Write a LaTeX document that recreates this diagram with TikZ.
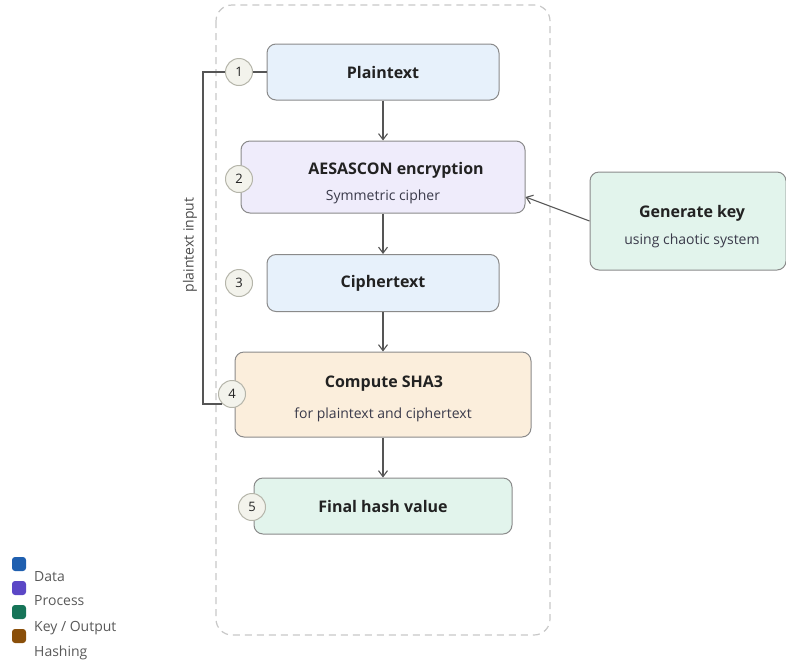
\documentclass[tikz,border=0pt]{standalone}
\usepackage{fontspec}
\setmainfont{Open Sans}
\usetikzlibrary{arrows.meta}
\definecolor{edgegray}{HTML}{8A8A8A}
\definecolor{dashgray}{HTML}{C8C8C8}
\definecolor{txt}{HTML}{222222}
\definecolor{subtxt}{HTML}{3A3A4A}
\definecolor{fillblue}{HTML}{E7F1FB}
\definecolor{fillpurple}{HTML}{EFECFB}
\definecolor{fillpeach}{HTML}{FBEEDC}
\definecolor{fillgreen}{HTML}{E2F4EC}
\definecolor{circfill}{HTML}{F3F3EC}
\definecolor{circedge}{HTML}{B5B5AA}
\definecolor{legdata}{HTML}{1F5FAF}
\definecolor{legproc}{HTML}{5B47C6}
\definecolor{legkey}{HTML}{167458}
\definecolor{leghash}{HTML}{8A4F0A}
\definecolor{arrowgray}{HTML}{555555}
\tikzset{
  boxstyle/.style={draw=edgegray, line width=1pt, rounded corners=9pt, inner sep=0pt, align=center, text=txt},
  numstyle/.style={circle, draw=circedge, fill=circfill, line width=1pt, minimum size=27pt, inner sep=0pt, font=\fontsize{13}{15}\selectfont, text=txt},
  flow/.style={draw=arrowgray, line width=1.1pt, -{Straight Barb[length=6pt,width=9pt]}},
  link/.style={draw=arrowgray, line width=1.1pt},
  ttl/.style={font=\fontsize{16}{19}\selectfont\bfseries},
  subt/.style={font=\fontsize{14}{16}\selectfont, text=subtxt},
  legsq/.style={rounded corners=3pt, minimum size=14pt, inner sep=0pt},
  legtxt/.style={anchor=base west, font=\fontsize{14}{16}\selectfont, text=black!65, inner sep=0pt}
}
\begin{document}
\begin{tikzpicture}[x=1pt,y=-1pt]
\useasboundingbox (0,0) rectangle (786,662);
% container
\draw[dashgray, line width=1.2pt, dash pattern=on 7pt off 5pt, rounded corners=16pt] (216,5) rectangle (550,635);
% boxes
\node[boxstyle, fill=fillblue, minimum width=232pt, minimum height=56pt] (plain) at (383,72) {};
\node[ttl, text=txt] at (383,72) {Plaintext};
\node[boxstyle, fill=fillpurple, minimum width=284pt, minimum height=72pt] (aes) at (383,177) {};
\node[ttl, text=txt] at (396,170) {AESASCON encryption};
\node[subt] at (383,197) {Symmetric cipher};
\node[boxstyle, fill=fillblue, minimum width=232pt, minimum height=57pt] (cipher) at (383,283) {};
\node[ttl, text=txt] at (383,283) {Ciphertext};
\node[boxstyle, fill=fillpeach, minimum width=296pt, minimum height=85pt] (sha) at (383,394.5) {};
\node[ttl, text=txt] at (384,384) {Compute SHA3};
\node[subt] at (383,415) {for plaintext and ciphertext};
\node[boxstyle, fill=fillgreen, minimum width=258pt, minimum height=56pt] (final) at (383,506) {};
\node[ttl, text=txt] at (383,506) {Final hash value};
\node[boxstyle, fill=fillgreen, minimum width=196pt, minimum height=98pt] (key) at (688,221) {};
\node[ttl, text=txt] at (692,213) {Generate key};
\node[subt] at (692,241) {using chaotic system};
% arrows
\draw[flow] (plain.south) -- (aes.north);
\draw[flow] (aes.south) -- (cipher.north);
\draw[flow] (cipher.south) -- (sha.north);
\draw[flow] (sha.south) -- (final.north);
\draw[flow] (key.west) -- (aes.east |- 0,197);
% number circles
\node[numstyle] (n1) at (239,72) {1};
\node[numstyle] (n2) at (239,179) {2};
\node[numstyle] (n3) at (239,283) {3};
\node[numstyle] (n4) at (232,394) {4};
\node[numstyle] (n5) at (252,507) {5};
% feedback
\coordinate (c1) at (203,72);
\coordinate (c2) at (203,404);
\draw[link] (n1.east) -- (plain.west);
\draw[link] (n1.west) -- (c1) -- (c2) -- (n4.south west |- c2);
\node[rotate=90, font=\fontsize{14}{16}\selectfont, text=black!70] (lbl) at (190,245) {plaintext input};
% legend
\node[legsq, fill=legdata] (l1) at (19,564) {};
\node[legtxt] (t1) at (34,581) {Data};
\node[legsq, fill=legproc] (l2) at (19,588) {};
\node[legtxt] (t2) at (34,605) {Process};
\node[legsq, fill=legkey] (l3) at (19,612) {};
\node[legtxt] (t3) at (34,631) {Key / Output};
\node[legsq, fill=leghash] (l4) at (19,636) {};
\node[legtxt] (t4) at (34,656) {Hashing};
\end{tikzpicture}
\end{document}
